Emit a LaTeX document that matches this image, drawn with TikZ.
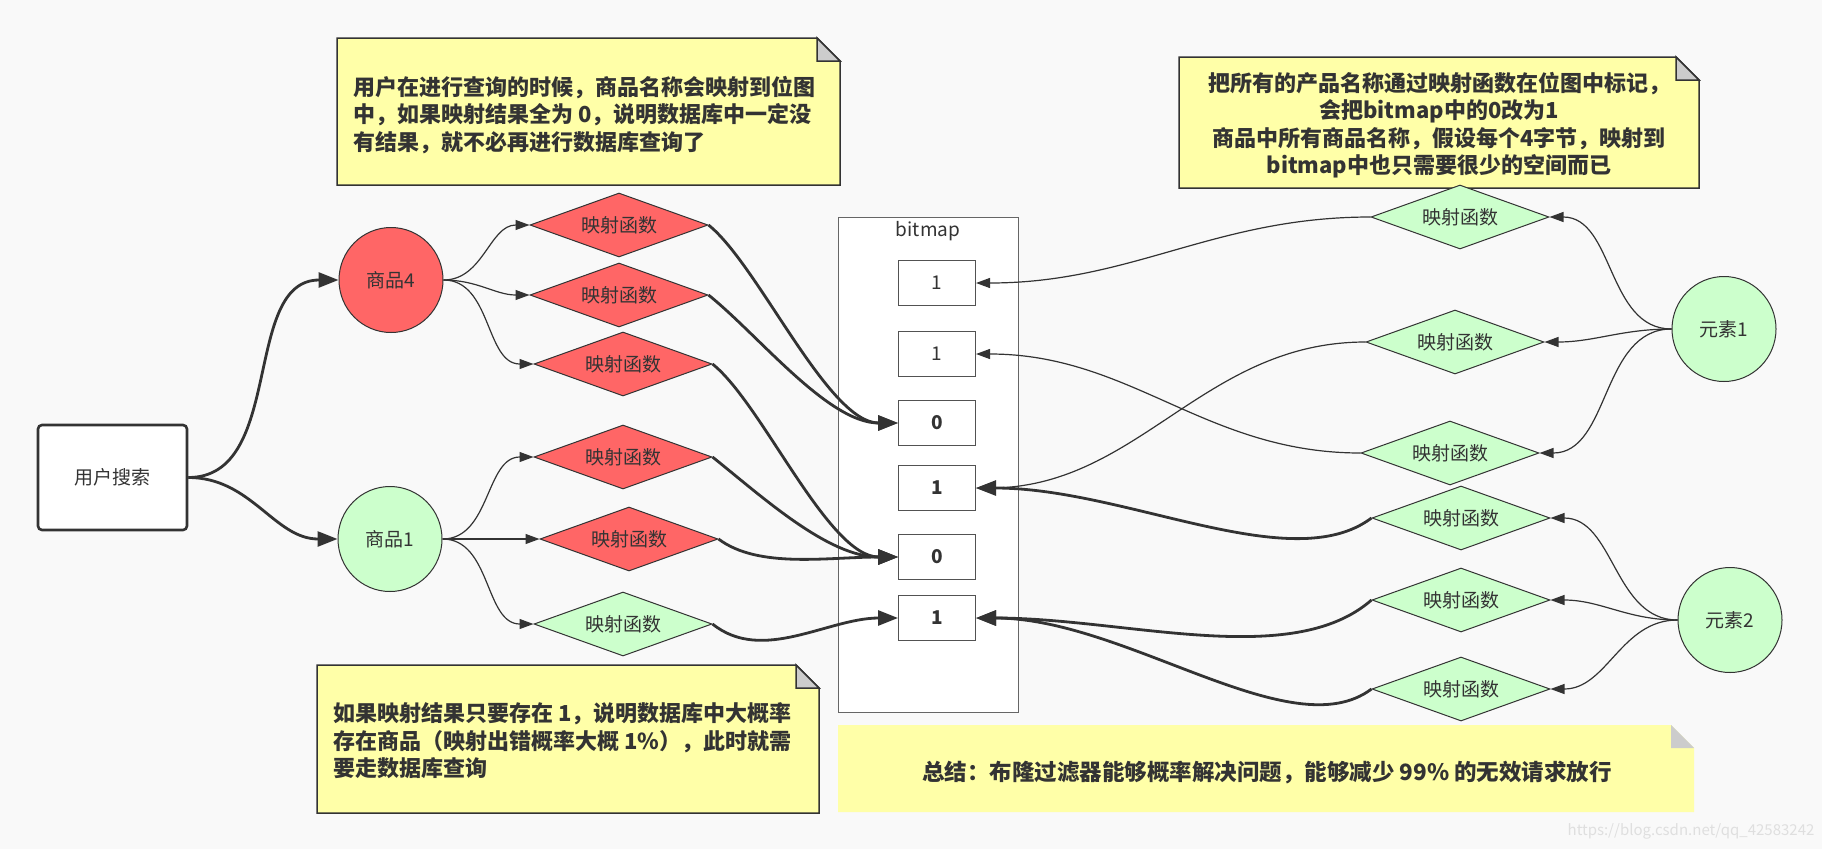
\documentclass[tikz,border=0pt]{standalone}
\usepackage{fontspec}
\setmainfont{Noto Sans CJK SC}
\usetikzlibrary{shapes.geometric,arrows.meta}
\definecolor{bg}{HTML}{F9F9F9}
\definecolor{ln}{HTML}{333333}
\definecolor{redf}{HTML}{FF6666}
\definecolor{greenf}{HTML}{CCFFCC}
\definecolor{notef}{HTML}{FFFFA8}
\definecolor{foldf}{HTML}{CCCCCC}
\begin{document}
\begin{tikzpicture}[x=1pt,y=-1pt,
  lbl/.style={font=\fontsize{19}{23}\selectfont, text=ln},
  fn/.style={diamond, draw=ln, line width=1pt, minimum width=178pt, minimum height=64pt, inner sep=0pt, shape aspect=2.8, lbl},
  fnr/.style={fn, fill=redf},
  fng/.style={fn, fill=greenf},
  elem/.style={ellipse, draw=ln, line width=1pt, minimum width=104pt, minimum height=105pt, inner sep=0pt, lbl},
  cell/.style={rectangle, draw=ln!85, line width=1pt, minimum width=77pt, minimum height=45pt, fill=white, inner sep=0pt, lbl},
  thinarr/.style={draw=ln, line width=1.2pt, -{Triangle[length=14pt,width=10pt]}},
  thickarr/.style={draw=ln, line width=2.8pt, -{Triangle[length=20pt,width=15pt]}},
  notebox/.style={fill=notef, draw=ln, line width=1.5pt},
  foldbox/.style={fill=foldf, draw=ln, line width=1.5pt},
  notetxt/.style={font=\fontsize{22}{27.5}\selectfont\bfseries, text=ln, inner sep=0pt},
]
\useasboundingbox (0,0) rectangle (1822,849);
\fill[bg] (0,0) rectangle (1822,849);

% notes
\draw[notebox] (337,38) -- (817,38) -- (840,61) -- (840,185) -- (337,185) -- cycle;
\draw[foldbox] (817,38) -- (817,61) -- (840,61) -- cycle;
\node[notetxt, anchor=west, align=left] (n1) at (353,115) {用户在进行查询的时候，商品名称会映射到位图\\中，如果映射结果全为 0，说明数据库中一定没\\有结果，就不必再进行数据库查询了};

\draw[notebox] (1179,57) -- (1676,57) -- (1699,80) -- (1699,188) -- (1179,188) -- cycle;
\draw[foldbox] (1676,57) -- (1676,80) -- (1699,80) -- cycle;
\node[notetxt, align=center] (n2) at (1439,125) {把所有的产品名称通过映射函数在位图中标记，\\会把bitmap中的0改为1\\商品中所有商品名称，假设每个4字节，映射到\\bitmap中也只需要很少的空间而已};

\draw[notebox] (317,665) -- (796,665) -- (819,688) -- (819,813) -- (317,813) -- cycle;
\draw[foldbox] (796,665) -- (796,688) -- (819,688) -- cycle;
\node[notetxt, anchor=west, align=left] (n3) at (333,741) {如果映射结果只要存在 1，说明数据库中大概率\\存在商品（映射出错概率大概 1\%），此时就需\\要走数据库查询};

\fill[notef] (838,725) -- (1671,725) -- (1694,748) -- (1694,812) -- (838,812) -- cycle;
\fill[foldf] (1671,725) -- (1671,748) -- (1694,748) -- cycle;
\node[notetxt, font=\fontsize{22.5}{27.5}\selectfont\bfseries] (n4) at (1267,773) {总结：布隆过滤器能够概率解决问题，能够减少 99\% 的无效请求放行};

% left part
\node[draw=ln, line width=2.6pt, rounded corners=4pt, fill=white, minimum width=149pt, minimum height=105pt, lbl] (us) at (112.5,477.5) {用户搜索};
\node[elem, fill=redf] (g4) at (391,280) {商品4};
\node[elem, fill=greenf] (g1) at (390,539) {商品1};

\node[fnr] (d1) at (619,225) {映射函数};
\node[fnr] (d2) at (619,295) {映射函数};
\node[fnr] (d3) at (623,364) {映射函数};
\node[fnr] (d4) at (623,457) {映射函数};
\node[fnr] (d5) at (629,539) {映射函数};
\node[fng] (d6) at (623,624) {映射函数};

% bitmap
\node[draw=ln!75, line width=1pt, fill=white, minimum width=180pt, minimum height=495pt, inner sep=0pt] (bm) at (928,464.5) {};
\node[lbl] (bml) at (928,231) {bitmap};
\node[cell] (c1) at (937,283) {1};
\node[cell] (c2) at (937,354) {1};
\node[cell] (c3) at (937,423) {\textbf{0}};
\node[cell] (c4) at (937,488) {\textbf{1}};
\node[cell] (c5) at (937,557) {\textbf{0}};
\node[cell] (c6) at (937,618) {\textbf{1}};

% right part
\node[fng] (r1) at (1460,217) {映射函数};
\node[fng] (r2) at (1455,342) {映射函数};
\node[fng] (r3) at (1450,453) {映射函数};
\node[fng] (r4) at (1461,518) {映射函数};
\node[fng] (r5) at (1461,600) {映射函数};
\node[fng] (r6) at (1461,689) {映射函数};
\node[elem, fill=greenf] (e1) at (1724,329) {元素1};
\node[elem, fill=greenf] (e2) at (1730,620) {元素2};

% connectors left
\draw[thickarr] (us.east) to[out=0,in=180] (g4.west);
\draw[thickarr] (us.east) to[out=0,in=180] (g1.west);
\draw[thinarr] (g4.east) to[out=0,in=180] (d1.west);
\draw[thinarr] (g4.east) to[out=0,in=180] (d2.west);
\draw[thinarr] (g4.east) to[out=0,in=180] (d3.west);
\draw[thinarr] (g1.east) to[out=0,in=180] (d4.west);
\draw[thinarr] (g1.east) -- (d5.west);
\draw[thinarr] (g1.east) to[out=0,in=180] (d6.west);
\draw[thickarr] (d1.east) .. controls +(50,40) and +(-70,0) .. (c3.west);
\draw[thickarr] (d2.east) .. controls +(50,40) and +(-70,0) .. (c3.west);
\draw[thickarr] (d3.east) .. controls +(50,40) and +(-70,0) .. (c5.west);
\draw[thickarr] (d4.east) .. controls +(50,40) and +(-70,0) .. (c5.west);
\draw[thickarr] (d5.east) .. controls +(40,30) and +(-70,0) .. (c5.west);
\draw[thickarr] (d6.east) .. controls +(50,40) and +(-70,0) .. (c6.west);

% connectors right
\draw[thinarr] (e1.west) to[out=180,in=0] (r1.east);
\draw[thinarr] (e1.west) to[out=180,in=0] (r2.east);
\draw[thinarr] (e1.west) to[out=180,in=0] (r3.east);
\draw[thinarr] (r1.west) to[out=180,in=0] (c1.east);
\draw[thinarr] (r2.west) to[out=180,in=0] (c4.east);
\draw[thinarr] (r3.west) to[out=180,in=0] (c2.east);
\draw[thinarr] (e2.west) to[out=180,in=0] (r4.east);
\draw[thinarr] (e2.west) to[out=180,in=0] (r5.east);
\draw[thinarr] (e2.west) to[out=180,in=0] (r6.east);
\draw[thickarr] (r4.west) .. controls +(-80,60) and +(150,0) .. (c4.east);
\draw[thickarr] (r5.west) .. controls +(-80,70) and +(150,0) .. (c6.east);
\draw[thickarr] (r6.west) .. controls +(-80,60) and +(150,0) .. (c6.east);

\node[font=\fontsize{15}{18}\selectfont, text=gray!25] (wm) at (1691,831) {https://blog.csdn.net/qq\_42583242};
\end{tikzpicture}
\end{document}
